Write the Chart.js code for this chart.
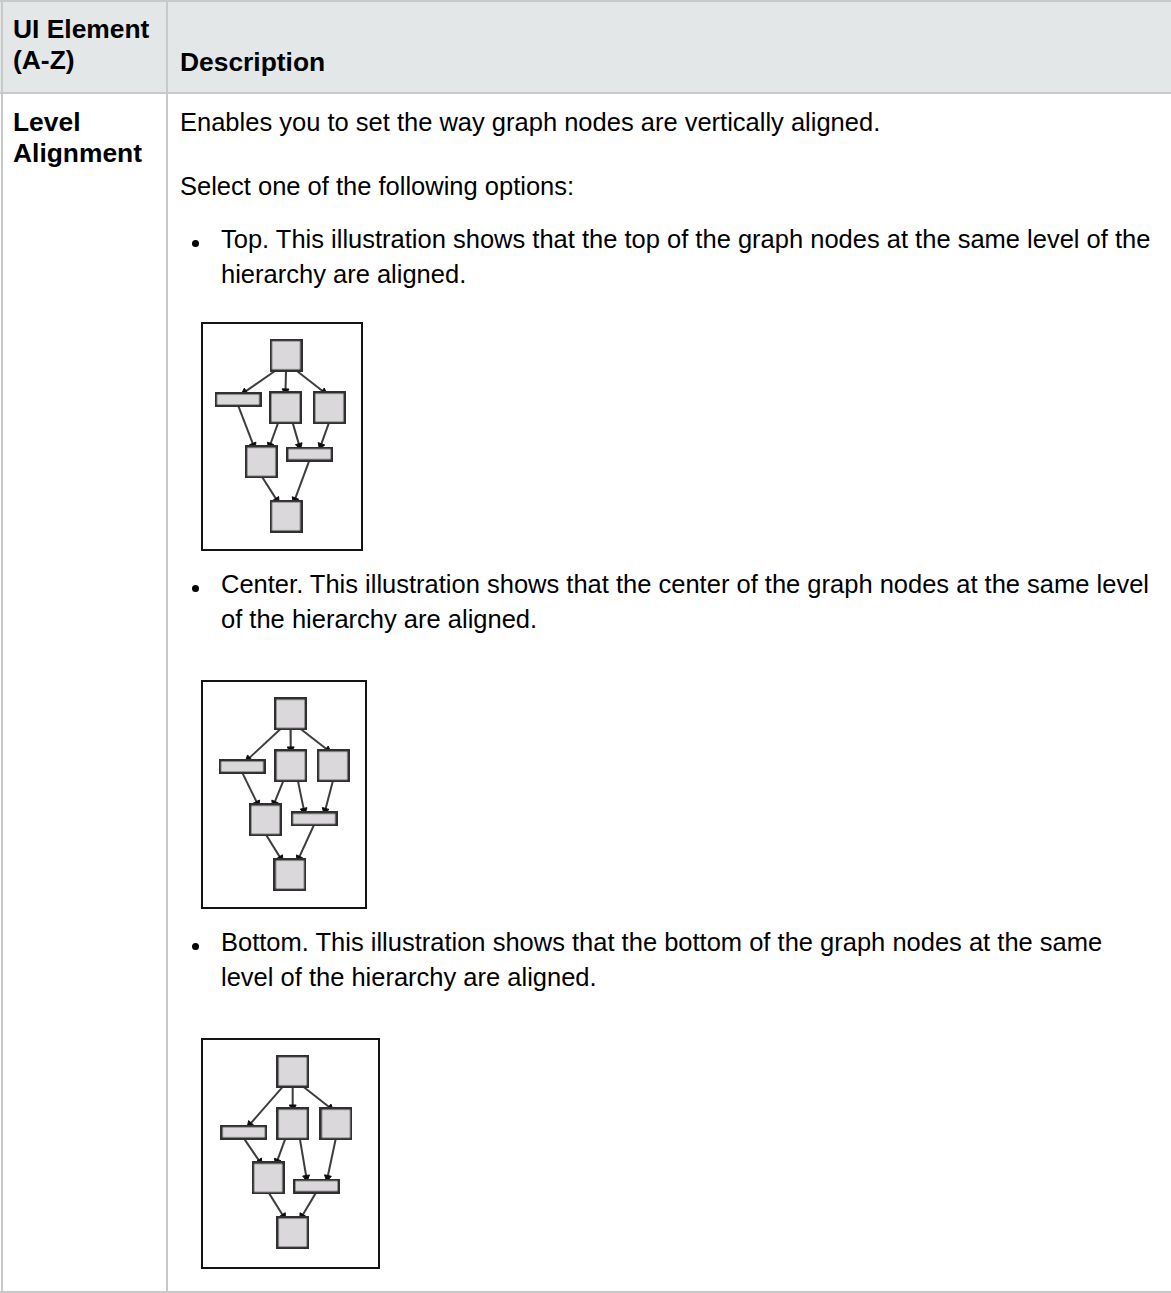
<!DOCTYPE html>
<html>
<head>
<meta charset="utf-8">
<script src="https://cdn.jsdelivr.net/npm/chart.js@4.4.0/dist/chart.umd.min.js"></script>
<style>
  body { margin: 0; background: #fff; }
  #page { position: relative; width: 1171px; height: 1293px; overflow: hidden; font-family: "Liberation Sans", Arial, sans-serif; color: #000; }
  .ln { position: absolute; white-space: nowrap; line-height: 30px; height: 30px; }
  .hd { font-weight: bold; font-size: 26.4px; }
  .tx { font-size: 25.5px; }
  .rule { position: absolute; background: #c9c9c9; }
  .dot { position: absolute; width: 7px; height: 7px; border-radius: 50%; background: #000; }
  .box { position: absolute; border: 2px solid #141414; background: #fff; }
  .box canvas { display: block; }
</style>
</head>
<body>
<div id="page">
  <div style="position:absolute;left:0;top:2px;width:1171px;height:90px;background:#e3e7e8"></div>
  <div class="rule" style="left:0;top:0;width:1171px;height:2px"></div>
  <div class="rule" style="left:0;top:92px;width:1171px;height:2px"></div>
  <div class="rule" style="left:0;top:1291px;width:1171px;height:2px"></div>
  <div class="rule" style="left:1px;top:0;width:2px;height:1293px"></div>
  <div class="rule" style="left:166px;top:0;width:2px;height:1293px"></div>

  <div class="ln hd" style="left:13px;top:14px">UI Element</div>
  <div class="ln hd" style="left:13px;top:45px">(A-Z)</div>
  <div class="ln hd" style="left:180px;top:47px">Description</div>

  <div class="ln hd" style="left:13px;top:107px">Level</div>
  <div class="ln hd" style="left:13px;top:138px">Alignment</div>

  <div class="ln tx" style="left:180px;top:107px">Enables you to set the way graph nodes are vertically aligned.</div>
  <div class="ln tx" style="left:180px;top:171px">Select one of the following options:</div>

  <div class="dot" style="left:192px;top:240px"></div>
  <div class="ln tx" style="left:221px;top:224px">Top. This illustration shows that the top of the graph nodes at the same level of the</div>
  <div class="ln tx" style="left:221px;top:259px">hierarchy are aligned.</div>
  <div class="box" style="left:201px;top:322px"><canvas id="gTop" width="158" height="225"></canvas></div>

  <div class="dot" style="left:192px;top:585px"></div>
  <div class="ln tx" style="left:221px;top:569px">Center. This illustration shows that the center of the graph nodes at the same level</div>
  <div class="ln tx" style="left:221px;top:604px">of the hierarchy are aligned.</div>
  <div class="box" style="left:201px;top:680px"><canvas id="gCenter" width="162" height="225"></canvas></div>

  <div class="dot" style="left:192px;top:943px"></div>
  <div class="ln tx" style="left:221px;top:927px">Bottom. This illustration shows that the bottom of the graph nodes at the same</div>
  <div class="ln tx" style="left:221px;top:962px">level of the hierarchy are aligned.</div>
  <div class="box" style="left:201px;top:1038px"><canvas id="gBottom" width="175" height="227"></canvas></div>
</div>

<script>
// graph: 7 nodes on 4 levels, same edges in every illustration
var nodeKinds = ["sq", "flat", "sq", "sq", "sq", "flat", "sq"];
var edgeFrom = [0, 0, 0, 1, 2, 2, 3, 4, 5];
var edgeTo = [1, 2, 3, 4, 4, 5, 5, 6, 6];

// node centres (px inside the frame)
var topX = [83.7, 28, 83, 134, 55, 111, 83.7];
var topY = [22.5, 71.5, 80.5, 80.5, 140.5, 132, 201];
var centerX = [88.5, 32.5, 88.8, 138, 59.5, 115.8, 87.8];
var centerY = [23, 81.5, 80.5, 80.5, 140.5, 139.5, 201.3];
var bottomX = [90, 34, 90, 139.5, 62, 117.2, 90];
var bottomY = [22.5, 90, 80.5, 80.5, 140.5, 149.5, 201];

// where edges leave / enter a node, relative to its centre
var portOut = [-10, 0, 10, 0, -8, 8, 0, 0, 0];
var portIn = [5, 0, -4, -8, 9, -11, 12, -9, 9];

var nodeW = { sq: 31, flat: 45 };
var nodeH = { sq: 31, flat: 13 };

function nodeImage(w, h) {
  var c = document.createElement("canvas");
  c.width = w + 2;
  c.height = h + 2;
  var g = c.getContext("2d");
  g.fillStyle = "#dad8db";
  g.strokeStyle = "#303030";
  g.lineWidth = 2.4;
  g.fillRect(1, 1, w, h);
  g.strokeRect(1.2, 1.2, w - 0.4, h - 0.4);
  return c;
}

var images = { sq: nodeImage(nodeW.sq, nodeH.sq), flat: nodeImage(nodeW.flat, nodeH.flat) };

function drawGraph(id, xs, ys) {
  var canvas = document.getElementById(id);
  var w = canvas.width;
  var h = canvas.height;

  var datasets = [
    {
      label: "nodes",
      data: xs.map(function (x, i) { return { x: x, y: ys[i] }; }),
      pointStyle: function (ctx) { return images[nodeKinds[ctx.dataIndex]]; },
      pointRadius: 10,
      showLine: false,
      order: 0
    }
  ];

  for (var e = 0; e < edgeFrom.length; e++) {
    var a = edgeFrom[e];
    var b = edgeTo[e];
    var sx = xs[a] + portOut[e];
    var sy = ys[a] + nodeH[nodeKinds[a]] / 2;
    var ex = xs[b] + portIn[e];
    var ey = ys[b] - nodeH[nodeKinds[b]] / 2;
    var dx = ex - sx;
    var dy = ey - sy;
    var len = Math.sqrt(dx * dx + dy * dy);
    var ax = ex - (dx / len) * 3;
    var ay = ey - (dy / len) * 3;
    datasets.push({
      label: "edge" + e,
      data: [{ x: sx, y: sy }, { x: ax, y: ay }],
      showLine: true,
      borderColor: "#3d3d3d",
      borderWidth: 2,
      pointStyle: "triangle",
      pointRadius: [0, 4],
      pointRotation: [0, Math.atan2(dx, -dy) * 180 / Math.PI],
      pointBackgroundColor: "#0d0d0d",
      pointBorderColor: "#0d0d0d",
      pointBorderWidth: 1,
      order: 1
    });
  }

  new Chart(canvas.getContext("2d"), {
    type: "scatter",
    data: { datasets: datasets },
    options: {
      responsive: false,
      animation: false,
      events: [],
      layout: { padding: 0 },
      plugins: { legend: { display: false }, tooltip: { enabled: false } },
      scales: {
        x: { type: "linear", display: false, min: 0, max: w },
        y: { type: "linear", display: false, min: 0, max: h, reverse: true }
      }
    }
  });
}

drawGraph("gTop", topX, topY);
drawGraph("gCenter", centerX, centerY);
drawGraph("gBottom", bottomX, bottomY);
</script>
</body>
</html>
